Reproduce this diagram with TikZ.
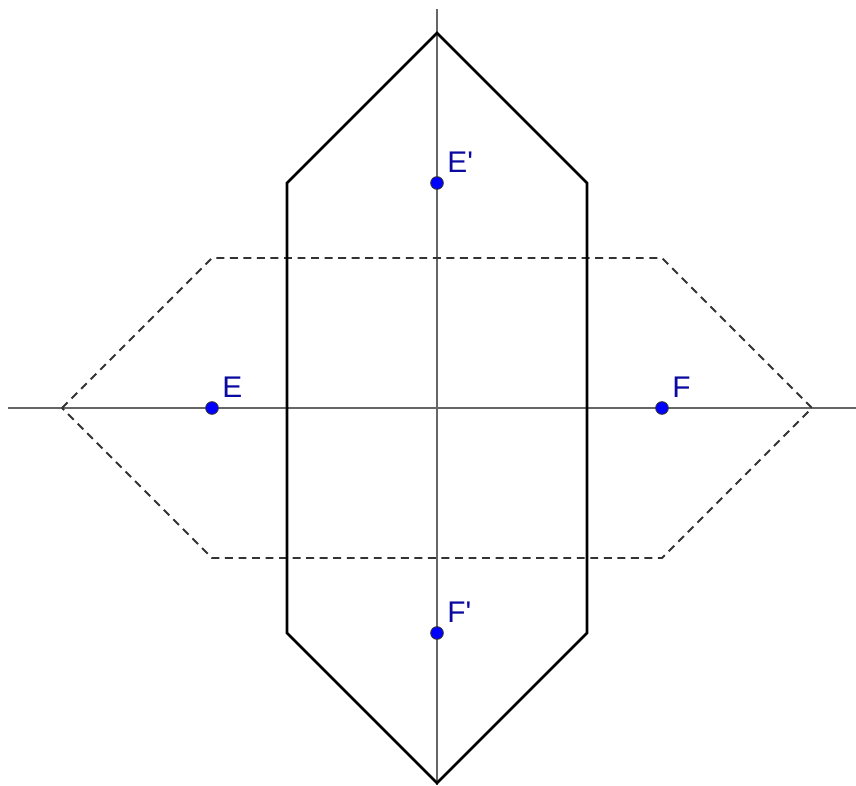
\documentclass[tikz,border=0pt]{standalone}
\usepackage{fontspec}
\setsansfont{Liberation Sans}
\definecolor{ptblue}{RGB}{0,0,255}
\definecolor{lblblue}{RGB}{10,10,160}
\tikzset{
  pt/.style={circle,fill=ptblue,draw=black!80,line width=0.5pt,inner sep=0pt,minimum size=7.2pt},
  lbl/.style={text=lblblue,font=\sffamily\fontsize{17}{17}\selectfont,inner sep=1pt,anchor=south west},
  axis/.style={color=black!60,line width=0.6pt},
  solid hex/.style={line width=1.5pt,line join=miter},
  dash hex/.style={line width=1.1pt,color=black!80,dash pattern=on 4.5pt off 3.2pt}
}
\begin{document}
\begin{tikzpicture}[x=3cm,y=3cm]
      \useasboundingbox (-2.9133,-2.5133) rectangle (2.7933,2.72);
      % axes
      \coordinate (xl) at (-2.86, 0);
      \coordinate (xr) at (2.7933, 0);
      \coordinate (yt) at (0, 2.66);
      \coordinate (yb) at (0, -2.5133);
      \draw[axis] (xl) -- (xr);
      \draw[axis] (yt) -- (yb);

      \coordinate (s1) at (0, 2.5);
      \coordinate (s2) at (1, 1.5);
      \coordinate (s3) at (1, -1.5);
      \coordinate (s4) at (0, -2.5);
      \coordinate (s5) at (-1, -1.5);
      \coordinate (s6) at (-1, 1.5);

      \coordinate (d1) at (-2.5, 0);
      \coordinate (d2) at (-1.5, 1);
      \coordinate (d3) at (1.5, 1);
      \coordinate (d4) at (2.5, 0);
      \coordinate (d5) at (1.5, -1);
      \coordinate (d6) at (-1.5, -1);

      \draw[dash hex] (d1) -- (d2) -- (d3) -- (d4) -- (d5) -- (d6) -- cycle;
      \draw[solid hex] (s1) -- (s2) -- (s3) -- (s4) -- (s5) -- (s6) -- cycle;

      \node[pt] (E)  at (-1.5, 0){};
      \node[pt] (F)  at (1.5, 0){};
      \node[pt] (E') at (0, 1.5){};
      \node[pt] (F') at (0, -1.5){};

      \node[lbl] at ([xshift=2pt,yshift=2pt]E.north east){E};
      \node[lbl] at ([xshift=2pt,yshift=2pt]F.north east){F};
      \node[lbl] at ([xshift=2pt,yshift=2pt]E'.north east){E\textquotesingle};
      \node[lbl] at ([xshift=2pt,yshift=2pt]F'.north east){F\textquotesingle};
    \end{tikzpicture}
\end{document}
